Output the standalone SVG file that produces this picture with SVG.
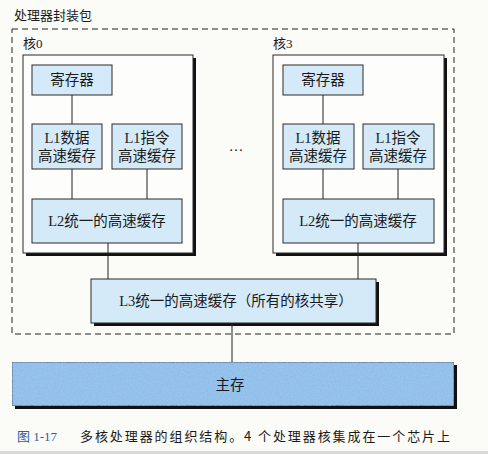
<svg xmlns="http://www.w3.org/2000/svg" width="488" height="454" viewBox="0 0 488 454">
<defs>
<style>
.t{font-family:"Liberation Serif","Noto Sans CJK SC",serif;font-size:14.5px;fill:#1a1a1a;text-anchor:middle}
.lb{font-family:"Liberation Serif","Noto Sans CJK SC",serif;font-size:13px;fill:#1a1a1a}
.box{fill:#d5eaf8;stroke:#2a2a2a;stroke-width:1}
.core{fill:#fdfdfb;stroke:#2a2a2a;stroke-width:1}
.sh{fill:#111}
.ln{stroke:#222;stroke-width:1;fill:none}
</style>
<filter id="noise" x="0" y="0" width="100%" height="100%">
<feTurbulence type="fractalNoise" baseFrequency="0.6" numOctaves="2" seed="3" result="n"/>
<feColorMatrix in="n" type="matrix" values="0 0 0 0 0.4  0 0 0 0 0.62  0 0 0 0 0.9  0 0 0 0.6 0" result="c"/>
<feComposite in="c" in2="SourceGraphic" operator="in" result="cc"/>
<feMerge><feMergeNode in="SourceGraphic"/><feMergeNode in="cc"/></feMerge>
</filter>
</defs>
<rect x="0" y="0" width="488" height="454" fill="#fbfbf8"/>
<rect x="0" y="451" width="488" height="3" fill="#d8d8d8"/>

<g id="package">
<text class="lb" x="14" y="20">处理器封装包</text>
<rect x="12" y="29" width="442" height="305" fill="none" stroke="#222" stroke-width="1" stroke-dasharray="6,4"/>
</g>

<g id="core0">
<text class="lb" x="23" y="48">核0</text>
<rect class="sh" x="26" y="58" width="170" height="198"/>
<rect class="core" x="23" y="55" width="170" height="198"/>
<g id="core0-reg"><rect class="box" x="32" y="65" width="80" height="30"/><text class="t" x="72" y="85">寄存器</text></g>
<g id="core0-l1d"><rect class="box" x="32" y="124" width="70" height="45"/><text class="t" x="67" y="143">L1数据</text><text class="t" x="67" y="161">高速缓存</text></g>
<g id="core0-l1i"><rect class="box" x="112" y="124" width="70" height="45"/><text class="t" x="147" y="143">L1指令</text><text class="t" x="147" y="161">高速缓存</text></g>
<g id="core0-l2"><rect class="box" x="32" y="199" width="150" height="44"/><text class="t" x="107" y="226">L2统一的高速缓存</text></g>
</g>

<g id="ellipsis"><text class="t" x="236" y="151">…</text></g>

<g id="core3">
<text class="lb" x="273" y="48">核3</text>
<rect class="sh" x="276" y="58" width="171" height="198"/>
<rect class="core" x="273" y="55" width="171" height="198"/>
<g id="core3-reg"><rect class="box" x="283" y="65" width="80" height="30"/><text class="t" x="323" y="85">寄存器</text></g>
<g id="core3-l1d"><rect class="box" x="283" y="124" width="71" height="45"/><text class="t" x="318" y="143">L1数据</text><text class="t" x="318" y="161">高速缓存</text></g>
<g id="core3-l1i"><rect class="box" x="363" y="124" width="71" height="45"/><text class="t" x="398" y="143">L1指令</text><text class="t" x="398" y="161">高速缓存</text></g>
<g id="core3-l2"><rect class="box" x="283" y="199" width="151" height="44"/><text class="t" x="358" y="226">L2统一的高速缓存</text></g>
</g>

<g id="l3">
<rect class="sh" x="94" y="282" width="285" height="44"/>
<rect class="box" x="91" y="279" width="285" height="44"/>
<text class="t" x="236" y="306">L3统一的高速缓存（所有的核共享）</text>
</g>

<g id="mainmem">
<rect class="sh" x="15" y="365" width="442" height="44"/>
<rect x="12" y="362" width="442" height="44" fill="#8abbe8" stroke="#2a2a2a" stroke-width="1" filter="url(#noise)"/>
<text class="t" x="230" y="390">主存</text>
</g>

<g id="connectors">
<line class="ln" x1="72" y1="95" x2="72" y2="124"/>
<line class="ln" x1="72" y1="169" x2="72" y2="199"/>
<line class="ln" x1="147" y1="169" x2="147" y2="199"/>
<line class="ln" x1="108" y1="243" x2="108" y2="279"/>
<line class="ln" x1="323" y1="95" x2="323" y2="124"/>
<line class="ln" x1="323" y1="169" x2="323" y2="199"/>
<line class="ln" x1="398" y1="169" x2="398" y2="199"/>
<line class="ln" x1="358" y1="243" x2="358" y2="279"/>
<line class="ln" x1="232" y1="323" x2="232" y2="362"/>
</g>

<g id="caption">
<text x="17" y="441" font-family="Liberation Serif,'Noto Sans CJK SC',serif" font-size="13" fill="#2f5f9e">图 1-17</text>
<text x="80" y="441" font-family="'Noto Sans CJK SC',serif" font-size="13" fill="#1a1a1a" textLength="370" lengthAdjust="spacing">多核处理器的组织结构。4 个处理器核集成在一个芯片上</text>
</g>
</svg>
